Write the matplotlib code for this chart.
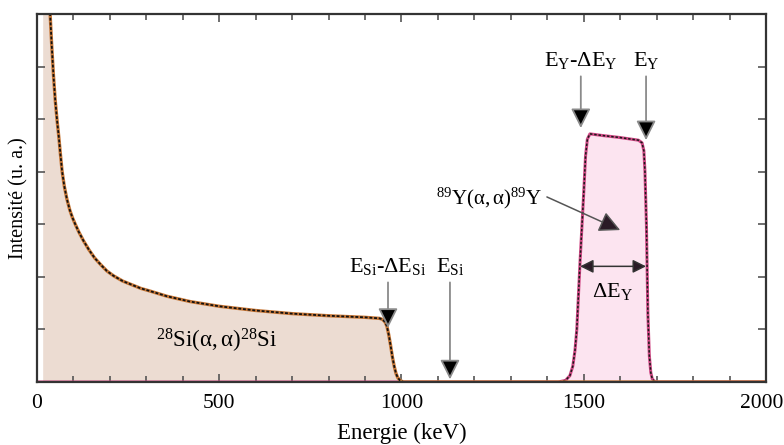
import matplotlib.pyplot as plt
import matplotlib.transforms as mtransforms

plt.rcParams['font.family'] = ['Liberation Serif', 'DejaVu Serif']
plt.rcParams['mathtext.fontset'] = 'custom'
plt.rcParams['mathtext.rm'] = 'Liberation Serif'
plt.rcParams['mathtext.it'] = 'Liberation Serif:italic'

# spectre Si (keV, u.a.)
si_energie = [17, 30, 36, 40, 45, 50, 55, 60, 64, 69, 75, 82, 90, 97, 105, 115,
              128, 142, 158, 175, 192, 210, 235, 260, 285, 310, 357, 420, 500,
              600, 700, 800, 900, 940, 948, 955, 960, 965, 970, 975, 980, 985,
              990, 996, 1005, 2000]
si_intensite = [40, 9.5, 7.0, 6.45, 5.85, 5.36, 4.98, 4.65, 4.35, 4.0, 3.72, 3.48,
                3.27, 3.13, 3.0, 2.85, 2.68, 2.52, 2.36, 2.23, 2.11, 2.02, 1.92,
                1.85, 1.78, 1.73, 1.63, 1.53, 1.44, 1.36, 1.3, 1.26, 1.23, 1.21,
                1.19, 1.14, 1.06, 0.9, 0.7, 0.48, 0.3, 0.16, 0.08, 0.03, 0.0, 0.0]

# spectre Y
y_energie = [0, 1430, 1450, 1462, 1470, 1476, 1481, 1490, 1500, 1505, 1510, 1517,
             1550, 1600, 1650, 1660, 1665, 1668, 1672, 1676, 1680, 1684, 1688,
             1693, 1700, 2000]
y_intensite = [0, 0, 0.03, 0.12, 0.3, 0.6, 1.0, 2.3, 3.6, 4.3, 4.62, 4.72, 4.69,
               4.65, 4.6, 4.55, 4.4, 4.0, 3.0, 1.3, 0.5, 0.18, 0.06, 0.02, 0, 0]

fig = plt.figure(figsize=(7.84, 4.45), dpi=100)
ax = fig.add_axes([0.0472, 0.1416, 0.9298, 0.8269])

ax.fill_between(si_energie, si_intensite, color='#ecdcd2', lw=0)
ax.fill_between(y_energie, y_intensite, color='#fce4f0', lw=0)
ax.plot(y_energie, y_intensite, color='#d04a86', lw=2.2)
ax.plot(y_energie, y_intensite, color='#1a1a1a', lw=1.1, ls=(0, (1.6, 1.2)))
ax.plot(si_energie, si_intensite, color='#c87838', lw=2.4)
ax.plot(si_energie, si_intensite, color='#111111', lw=1.3, ls=(0, (1.6, 1.0)))

ax.set_xlim(0, 2000)
ax.set_ylim(0, 7)
ax.set_xticks([0, 500, 1000, 1500, 2000])
ax.set_xticks(range(0, 2001, 100), minor=True)
ax.set_yticks(range(0, 8))
ax.set_yticklabels([])
ax.tick_params(which='both', direction='in', top=True, right=True, color='#555555',
               labelsize=15.5)
ax.tick_params(which='major', length=6, width=1.2, pad=9)
ax.tick_params(which='minor', length=4, width=1.2)
for s in ax.spines.values():
    s.set_linewidth(1.6)
    s.set_color('#333333')

# le dernier label touche le bord droit
dernier = ax.get_xticklabels()[-1]
dernier.set_transform(dernier.get_transform() +
                      mtransforms.ScaledTranslation(-4 / 100, 0, fig.dpi_scale_trans))

ax.set_xlabel('Energie (keV)', fontsize=16.5, labelpad=7)
ax.set_ylabel('Intensité (u. a.)', fontsize=14.5, labelpad=-3)

fleche = dict(arrowstyle='-|>', mutation_scale=30, ec='#8a8a8a', fc='black',
              lw=1.3, shrinkA=2, shrinkB=0)

ax.annotate(r'$\mathrm{E_{Si}}$-$\mathrm{\Delta E_{Si}}$', xy=(963, 1.03),
            xytext=(963, 2.0), fontsize=16, ha='center', va='bottom',
            arrowprops=fleche)
ax.annotate(r'$\mathrm{E_{Si}}$', xy=(1133, 0.05), xytext=(1133, 2.0),
            fontsize=16, ha='center', va='bottom', arrowprops=fleche)
ax.annotate(r'$\mathrm{E_{Y}}$-$\mathrm{\Delta E_{Y}}$', xy=(1492, 4.83),
            xytext=(1492, 5.92), fontsize=16, ha='center', va='bottom',
            arrowprops=fleche)
ax.annotate(r'$\mathrm{E_{Y}}$', xy=(1671, 4.6), xytext=(1671, 5.92),
            fontsize=16, ha='center', va='bottom', arrowprops=fleche)

ax.annotate('', xy=(1600, 2.89), xytext=(1399, 3.52),
            arrowprops=dict(arrowstyle='-|>', mutation_scale=32, ec='#555555',
                            fc='#2a1a26', lw=1.1, shrinkA=0, shrinkB=0))
ax.text(1387, 3.5, r'$\mathrm{^{89}Y(\alpha,\alpha)^{89}Y}$', fontsize=15,
        ha='right', va='center')

ax.annotate('', xy=(1490, 2.2), xytext=(1671, 2.2),
            arrowprops=dict(arrowstyle='<|-|>', mutation_scale=20, ec='#333333',
                            fc='#2a1a26', lw=1.1, shrinkA=0, shrinkB=0))
ax.text(1580, 1.72, r'$\mathrm{\Delta E_{Y}}$', fontsize=16, ha='center',
        va='center')

ax.text(494, 0.78, r'$\mathrm{^{28}Si(\alpha,\alpha)^{28}Si}$', fontsize=16.5,
        ha='center', va='center')

fig.savefig('out.png', dpi=100)
